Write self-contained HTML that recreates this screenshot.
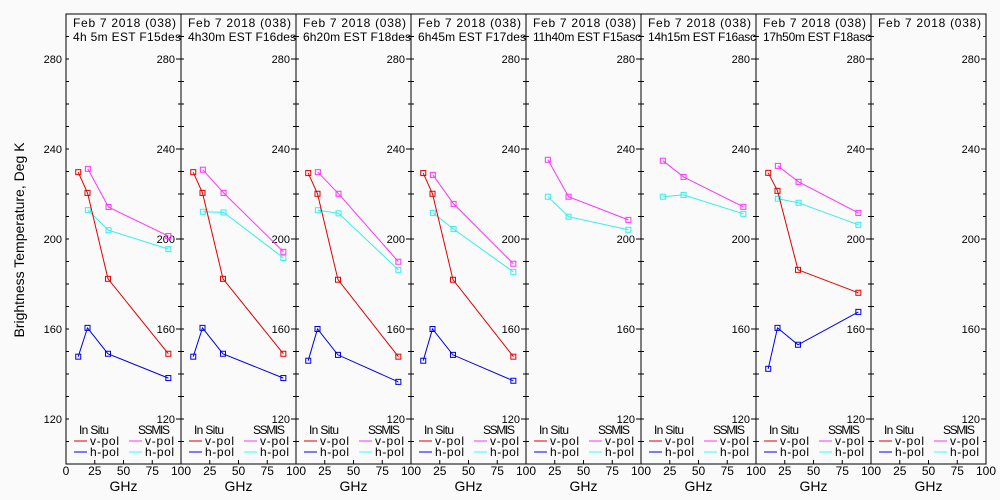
<!DOCTYPE html>
<html><head><meta charset="utf-8">
<style>
html,body{margin:0;padding:0;background:#fafafa;}
svg{display:block;font-family:"Liberation Sans",sans-serif;}
</style></head>
<body>
<svg id="chart" width="1000" height="500" viewBox="0 0 1000 500" xmlns="http://www.w3.org/2000/svg">
<rect x="0" y="0" width="1000" height="500" fill="#fafafa"/>
<text x="24" y="240" font-size="14" text-anchor="middle" transform="rotate(-90 24 240)">Brightness Temperature, Deg K</text>
<g id="panels"></g>
</svg>
<script>
const titles = ["4h 5m EST F15des","4h30m EST F16des","6h20m EST F18des","6h45m EST F17des","11h40m EST F15asc","14h15m EST F16asc","17h50m EST F18asc",""];
const insituFreq = [10.65, 18.7, 36.5, 89];
const ssmisFreq = [19, 37, 89];
const insituV = [[229.7,220.5,182.3,149.0],[229.7,220.5,182.3,149.0],[229.3,220.1,181.9,147.7],[229.3,220.1,181.9,147.7],null,null,[229.4,221.4,186.3,176.1],null];
const insituH = [[147.7,160.5,149.0,138.2],[147.7,160.5,149.0,138.2],[145.9,160.0,148.5,136.5],[145.9,160.0,148.5,137.0],null,null,[142.3,160.5,153.0,167.6],null];
const ssmisV = [[231.2,214.2,201.3],[230.8,220.5,194.3],[229.7,220.1,189.9],[228.5,215.6,189.0],[235.2,218.8,208.5],[234.8,227.6,214.3],[232.5,225.4,211.6],null];
const ssmisH = [[212.8,203.9,195.5],[212.1,211.8,191.6],[212.8,211.4,186.3],[211.6,204.4,185.4],[218.8,209.9,204.1],[218.8,219.6,211.2],[217.9,216.1,206.3],null];
const yTicks = [120,160,200,240,280];
const xTicks = [25,50,75];

const NS = "http://www.w3.org/2000/svg";
const g = document.getElementById('panels');
const PX0 = 66, PW = 115, TOP = 14, BOT = 464;
function ys(T){ return TOP + (300 - T) * (BOT - TOP) / 200; }
function xs(p, f){ return PX0 + p * PW + f / 100 * PW; }
function mk(tag, attrs, parent){ const e = document.createElementNS(NS, tag); for (const k in attrs) e.setAttribute(k, attrs[k]); (parent||g).appendChild(e); return e; }

function series(p, freqs, vals, color, name){
  if (!vals) return;
  const grp = mk('g', {});
  
  
  const pts = vals.map((v,i)=>xs(p,freqs[i]).toFixed(1)+','+ys(v).toFixed(1)).join(' ');
  const l = mk('polyline', {points: pts, fill:'none', stroke: color, 'stroke-width': 1}, grp);
  
  
  vals.forEach((v,i)=>{
    const r = mk('rect', {x: xs(p,freqs[i])-2.5, y: ys(v)-2.5, width:5, height:5, fill:'none', stroke: color, 'stroke-width':1}, grp);
    
    
  });
}

for (let p = 0; p < 8; p++){
  const x0 = PX0 + p * PW, x1 = x0 + PW;
  const pg = mk('g', {});
  
  
  const fr = mk('rect', {x:x0, y:TOP, width:PW, height:BOT-TOP, fill:'none', stroke:'#000', 'stroke-width':1}, pg);
  
  
  for (let T = 110; T < 300; T += 10){
    const y = ys(T);
    const major = yTicks.includes(T);
    mk('line', {x1:x0, x2:x0+3, y1:y, y2:y, stroke:'#000'}, pg);
    mk('line', {x1:x1-(major?5:3), x2:x1, y1:y, y2:y, stroke:'#000'}, pg);
  }
  yTicks.forEach(T=>{
    const t = mk('text', {x:x1-6, y:ys(T)+4, 'font-size':11, 'text-anchor':'end'}, pg);
    t.textContent = T;
    
    
    if (p === 0){
      const t2 = mk('text', {x:x0-4, y:ys(T)+4, 'font-size':11, 'text-anchor':'end'}, pg);
      t2.textContent = T;
      
      
    }
  });
  xTicks.forEach(f=>{
    const x = xs(p,f);
    mk('line', {x1:x, x2:x, y1:BOT, y2:BOT-4, stroke:'#000'}, pg);
    const t = mk('text', {x:x, y:475, 'font-size':12, 'text-anchor':'middle'}, pg);
    t.textContent = f;
    
    
  });
  if (p === 0){
    const t0 = mk('text', {x:x0, y:475, 'font-size':12, 'text-anchor':'middle'}, pg);
    t0.textContent = '0';
    
    
  }
  const t100 = mk('text', {x:x1, y:475, 'font-size':12, 'text-anchor':'middle'}, pg);
  t100.textContent = '100';
  
  
  const gx = mk('text', {x:x0+PW/2, y:491, 'font-size':14, 'text-anchor':'middle'}, pg);
  gx.textContent = 'GHz';
  
  
  const t1 = mk('text', {x:x0+7, y:27, 'font-size':12, textLength:103}, pg);
  t1.textContent = 'Feb 7 2018 (038)';
  
  
  const t2 = mk('text', {x:x0+7, y:41, 'font-size':12}, pg);
  if (titles[p]) t2.setAttribute('textLength', 108);
  t2.textContent = titles[p];
  
  
  const lg = mk('g', {}, pg);
  
  
  const a = mk('text', {x:x0+13, y:434, 'font-size':12, textLength:30}, lg); a.textContent = 'In Situ';
  const b = mk('text', {x:x0+72, y:434, 'font-size':12, textLength:32}, lg); b.textContent = 'SSMIS';
  [['#e00000',x0+8,441,'v-pol'],['#0000e0',x0+8,452,'h-pol'],['#ff33ff',x0+63,441,'v-pol'],['#33ffff',x0+63,452,'h-pol']].forEach(d=>{
    const e = mk('g', {}, lg);
    
    
    mk('line', {x1:d[1], x2:d[1]+13, y1:d[2], y2:d[2], stroke:d[0]}, e);
    const tt = mk('text', {x:d[1]+16, y:d[2]+4, 'font-size':12, textLength:29}, e); tt.textContent = d[3];
  });
  series(p, ssmisFreq, ssmisV[p], '#ff33ff', 'ssmis-v-pol');
  series(p, ssmisFreq, ssmisH[p], '#33eeee', 'ssmis-h-pol');
  series(p, insituFreq, insituV[p], '#e00000', 'insitu-v-pol');
  series(p, insituFreq, insituH[p], '#0000e0', 'insitu-h-pol');
}
</script>
</body></html>
